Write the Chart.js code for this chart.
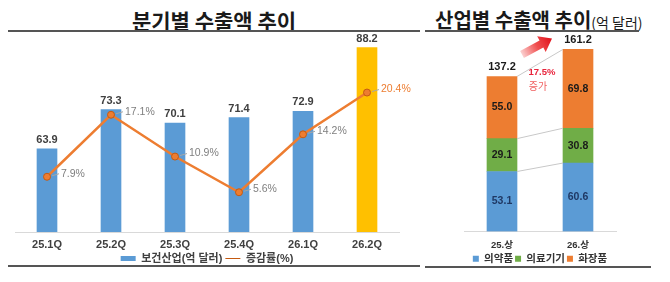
<!DOCTYPE html>
<html>
<head>
<meta charset="utf-8">
<script src="https://cdn.jsdelivr.net/npm/chart.js@4"></script>
<style>
  body { margin: 0; width: 670px; height: 282px; background: #fff; position: relative; overflow: hidden; font-family: "Noto Sans CJK KR", sans-serif; }
  .title { position: absolute; top: 8px; line-height: 24px; font-weight: 700; color: #1a1a1a; white-space: nowrap; }
  .rule { position: absolute; height: 2px; background: #555; }
  .box { position: absolute; top: 34px; height: 240px; }
</style>
</head>
<body>
<div class="title" style="left:8px;width:412px;text-align:center;font-size:21px">분기별 수출액 추이</div>
<div class="title" style="left:435px;font-size:20px">산업별 수출액 추이<span style="font-size:14px;font-weight:400">(억 달러)</span></div>
<div class="rule" style="left:8px;width:412px;top:30px"></div>
<div class="rule" style="left:425px;width:214px;top:30px"></div>
<div class="rule" style="left:8px;width:412px;top:265px"></div>
<div class="rule" style="left:425px;width:226px;top:266px"></div>
<div class="box" style="left:0;width:420px"><canvas id="quarterChart"></canvas></div>
<div class="box" style="left:425px;width:245px"><canvas id="industryChart"></canvas></div>

<script>
// 분기별 수출액
const quarters = ["25.1Q", "25.2Q", "25.3Q", "25.4Q", "26.1Q", "26.2Q"];
const exportsAmt = [63.9, 73.3, 70.1, 71.4, 72.9, 88.2];
const growthRate = [7.9, 17.1, 10.9, 5.6, 14.2, 20.4];

// 산업별 수출액 (상반기)
const halves = ["25.상", "26.상"];
const pharma = [53.1, 60.6];
const devices = [29.1, 30.8];
const cosmetics = [55.0, 69.8];

Chart.defaults.font.family = "'Liberation Sans', 'Noto Sans CJK KR', sans-serif";
Chart.defaults.animation = false;

const BLUE = "#5B9BD5";
const ORANGE = "#ED7D31";
const GREEN = "#70AD47";
const YELLOW = "#FFC000";
const lastIdx = quarters.length - 1;

const quarterLabels = {
  id: "quarterLabels",
  afterDatasetsDraw(chart) {
    const { ctx } = chart;
    ctx.save();
    // bar values
    ctx.font = "bold 11px 'Liberation Sans'";
    ctx.fillStyle = "#404040";
    ctx.textAlign = "center";
    ctx.textBaseline = "alphabetic";
    chart.getDatasetMeta(0).data.forEach((el, i) => {
      ctx.fillText(exportsAmt[i].toFixed(1), el.x, el.y - 6);
    });
    // growth labels
    ctx.font = "10.5px 'Liberation Sans'";
    ctx.textAlign = "left";
    ctx.textBaseline = "middle";
    chart.getDatasetMeta(1).data.forEach((pt, i) => {
      ctx.strokeStyle = "#a6a6a6";
      ctx.lineWidth = 1;
      ctx.beginPath();
      ctx.moveTo(pt.x + 5, pt.y - 1);
      ctx.lineTo(pt.x + 12, pt.y - 3);
      ctx.stroke();
      ctx.fillStyle = i === lastIdx ? ORANGE : "#7f7f7f";
      ctx.fillText(growthRate[i].toFixed(1) + "%", pt.x + 14, pt.y - 3);
    });
    ctx.restore();
  }
};

new Chart(document.getElementById("quarterChart"), {
  type: "bar",
  data: {
    labels: quarters,
    datasets: [
      {
        label: "보건산업(억 달러)",
        data: exportsAmt,
        backgroundColor: (c) => (c.dataIndex === lastIdx ? YELLOW : BLUE),
        barThickness: 20,
        yAxisID: "y",
        order: 1
      },
      {
        type: "line",
        label: "증감률(%)",
        data: growthRate,
        borderColor: ORANGE,
        backgroundColor: ORANGE,
        borderWidth: 2.5,
        pointRadius: 3.5,
        pointBackgroundColor: ORANGE,
        pointBorderColor: "#C55A11",
        pointBorderWidth: 1,
        tension: 0,
        yAxisID: "y2",
        order: 0
      }
    ]
  },
  options: {
    responsive: true,
    maintainAspectRatio: false,
    layout: { padding: { left: 15, right: 21, top: 6, bottom: 0 } },
    scales: {
      x: {
        grid: { display: false, drawTicks: false },
        border: { color: "#d9d9d9", width: 1 },
        ticks: { color: "#404040", font: { size: 11, weight: "bold" }, padding: 6 },
        afterFit: (s) => { s.height = 18; }
      },
      y: { display: false, min: 44, max: 90 },
      y2: { display: false, min: -0.3, max: 28.2 }
    },
    plugins: {
      legend: {
        position: "bottom",
        labels: {
          usePointStyle: true,
          pointStyleWidth: 15,
          boxHeight: 5,
          padding: 3,
          color: "#404040",
          font: { size: 11, weight: "bold" },
          sort: (a, b) => a.datasetIndex - b.datasetIndex,
          generateLabels: (chart) =>
            Chart.defaults.plugins.legend.labels.generateLabels(chart).map((it) => ({
              ...it,
              pointStyle: it.datasetIndex === 1 ? "line" : "rect"
            }))
        }
      },
      tooltip: { enabled: false }
    }
  },
  plugins: [quarterLabels]
});

const industryLabels = {
  id: "industryLabels",
  afterDatasetsDraw(chart) {
    const { ctx } = chart;
    const metas = [0, 1, 2].map((i) => chart.getDatasetMeta(i));
    const series = [pharma, devices, cosmetics];
    ctx.save();
    // connector lines between stacks
    ctx.strokeStyle = "#c8c8c8";
    ctx.lineWidth = 1;
    metas.forEach((m) => {
      const a = m.data[0], b = m.data[1];
      ctx.beginPath();
      ctx.moveTo(a.x + a.width / 2, a.y);
      ctx.lineTo(b.x - b.width / 2, b.y);
      ctx.stroke();
    });
    // segment values
    ctx.font = "bold 10.5px 'Liberation Sans'";
    ctx.textAlign = "center";
    ctx.textBaseline = "middle";
    metas.forEach((m, di) => {
      m.data.forEach((el, i) => {
        ctx.fillStyle = di === 0 ? "#1F3864" : "#1a1a1a";
        ctx.fillText(series[di][i].toFixed(1), el.x, (el.y + el.base) / 2);
      });
    });
    // totals
    const tops = metas[2].data;
    const totals = halves.map((_, i) => pharma[i] + devices[i] + cosmetics[i]);
    ctx.font = "bold 11px 'Liberation Sans'";
    ctx.fillStyle = "#1a1a1a";
    ctx.textBaseline = "alphabetic";
    tops.forEach((el, i) => ctx.fillText(totals[i].toFixed(1), el.x, el.y - 6));
    // arrow
    const L = tops[0], R = tops[1];
    const tx = L.x + 20, ty = L.y - 22, hx = R.x - 26, hy = R.y - 11;
    const len = Math.hypot(hx - tx, hy - ty);
    const dx = (hx - tx) / len, dy = (hy - ty) / len;
    const nx = -dy, ny = dx;
    const bx = hx - dx * 12, by = hy - dy * 12;
    const g = ctx.createLinearGradient(tx, ty, hx, hy);
    g.addColorStop(0, "#fbd0d0");
    g.addColorStop(0.5, "#f05050");
    g.addColorStop(1, "#e0101a");
    ctx.fillStyle = g;
    ctx.beginPath();
    ctx.moveTo(tx + nx * 4, ty + ny * 4);
    ctx.lineTo(bx + nx * 4, by + ny * 4);
    ctx.lineTo(bx + nx * 9, by + ny * 9);
    ctx.lineTo(hx, hy);
    ctx.lineTo(bx - nx * 9, by - ny * 9);
    ctx.lineTo(bx - nx * 4, by - ny * 4);
    ctx.lineTo(tx - nx * 4, ty - ny * 4);
    ctx.closePath();
    ctx.fill();
    // increase rate
    const rate = (totals[1] / totals[0] - 1) * 100;
    const mx = (L.x + R.x) / 2 + 2;
    ctx.textBaseline = "middle";
    ctx.font = "bold 9.5px 'Liberation Sans'";
    ctx.fillStyle = "#e8243c";
    ctx.fillText(rate.toFixed(1) + "%", mx, L.y - 4);
    ctx.font = "10px 'Noto Sans CJK KR'";
    ctx.fillStyle = "#f06060";
    ctx.fillText("증가", mx - 4, L.y + 10);
    ctx.restore();
  }
};

new Chart(document.getElementById("industryChart"), {
  type: "bar",
  data: {
    labels: halves,
    datasets: [
      { label: "의약품", data: pharma, backgroundColor: BLUE, barThickness: 30 },
      { label: "의료기기", data: devices, backgroundColor: GREEN, barThickness: 30 },
      { label: "화장품", data: cosmetics, backgroundColor: ORANGE, barThickness: 30 }
    ]
  },
  options: {
    responsive: true,
    maintainAspectRatio: false,
    layout: { padding: { left: 39, right: 54, top: 6, bottom: 0 } },
    scales: {
      x: {
        stacked: true,
        grid: { display: false, drawTicks: false },
        border: { color: "#d9d9d9", width: 1 },
        ticks: { color: "#333", font: { size: 9.5, weight: "bold" }, padding: 8.5 },
        afterFit: (s) => { s.height = 20; }
      },
      y: { stacked: true, display: false, min: 0, max: 169.5 }
    },
    plugins: {
      legend: {
        position: "bottom",
        labels: { boxWidth: 6, boxHeight: 6, padding: 2, color: "#333", font: { size: 10.5, weight: "bold" } }
      },
      tooltip: { enabled: false }
    }
  },
  plugins: [industryLabels]
});
</script>
</body>
</html>
